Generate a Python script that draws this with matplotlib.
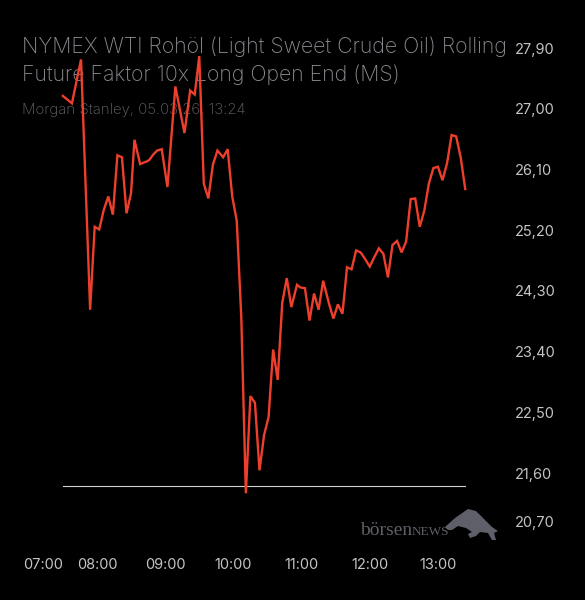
import numpy as np
import matplotlib
matplotlib.use("Agg")
import matplotlib.pyplot as plt
from matplotlib.patches import Polygon
from matplotlib.transforms import ScaledTranslation

# ----------------------------------------
# Data
# ----------------------------------------
times = ["07:30", "07:38", "07:46", "07:54", "07:58", "08:02", "08:06", "08:10", "08:14", "08:18",
         "08:22", "08:26", "08:30", "08:33", "08:38", "08:44", "08:46", "08:50", "08:53", "08:57",
         "09:02", "09:09", "09:17", "09:22", "09:26", "09:30", "09:34", "09:38", "09:42", "09:46",
         "09:51", "09:55", "09:59", "10:03", "10:07", "10:11", "10:15", "10:19", "10:23", "10:27",
         "10:31", "10:35", "10:39", "10:43", "10:47", "10:51", "10:56", "10:59", "11:03", "11:07",
         "11:11", "11:15", "11:19", "11:24", "11:28", "11:32", "11:36", "11:40", "11:44", "11:48",
         "11:52", "11:56", "12:00", "12:04", "12:08", "12:12", "12:16", "12:20", "12:24", "12:28",
         "12:32", "12:36", "12:40", "12:44", "12:48", "12:52", "12:56", "13:00", "13:04", "13:08",
         "13:12", "13:16", "13:20", "13:24"]

prices = [27.19, 27.08, 27.73, 24.02, 25.25, 25.21, 25.50, 25.70, 25.43, 26.31,
          26.28, 25.45, 25.75, 26.54, 26.18, 26.22, 26.24, 26.33, 26.38, 26.40,
          25.84, 27.33, 26.64, 27.27, 27.21, 27.78, 25.89, 25.67, 26.17, 26.38,
          26.28, 26.40, 25.70, 25.34, 23.90, 21.30, 22.74, 22.64, 21.64, 22.16,
          22.43, 23.43, 22.98, 24.12, 24.49, 24.06, 24.39, 24.35, 24.34, 23.86,
          24.26, 24.02, 24.45, 24.12, 23.89, 24.10, 23.96, 24.65, 24.62, 24.90,
          24.87, 24.77, 24.66, 24.80, 24.93, 24.85, 24.50, 24.98, 25.04, 24.87,
          25.03, 25.66, 25.67, 25.25, 25.49, 25.89, 26.12, 26.14, 25.94, 26.19,
          26.61, 26.59, 26.28, 25.81]

base_level = 21.41

x_ticks = ["07:00", "08:00", "09:00", "10:00", "11:00", "12:00", "13:00"]
y_ticks = [27.90, 27.00, 26.10, 25.20, 24.30, 23.40, 22.50, 21.60, 20.70]

title_lines = ["NYMEX WTI Rohöl (Light Sweet Crude Oil) Rolling",
               "Future Faktor 10x Long Open End (MS)"]
subtitle = "Morgan Stanley, 05.03.26, 13:24"


def to_min(s):
    h, m = s.split(":")
    return int(h) * 60 + int(m)


t = np.array([to_min(s) for s in times])
v = np.array(prices)

W, H = 585, 600


def fx(px):
    return px / W


def fy(py):
    return 1 - py / H


plt.rcParams['font.family'] = ['Inter', 'DejaVu Sans']

fig = plt.figure(figsize=(5.85, 6.0), dpi=100, facecolor="black")
ax = fig.add_axes([fx(20), fy(540), fx(480) - fx(20), fy(30) - fy(540)])
ax.set_zorder(3)
ax.patch.set_visible(False)

ax.plot(t, v, color="#ee3f2c", lw=1.7, solid_joinstyle="miter", zorder=3)
ax.plot([t[0], t[-1]], [base_level, base_level], color="#d0d0d0", lw=0.8, zorder=2)

ax.set_xlim(412.3, 817.0)
ax.set_ylim(20.607, 28.167)

for s in ax.spines.values():
    s.set_visible(False)

ax.set_xticks([to_min(s) for s in x_ticks])
ax.set_xticklabels(x_ticks)
ax.yaxis.tick_right()
ax.set_yticks(y_ticks)
ax.set_yticklabels([f"{y:.2f}".replace(".", ",") for y in y_ticks])
ax.tick_params(axis="both", length=0, colors="#c4c4c4", labelsize=10.5)
ax.tick_params(axis="y", pad=25)
ax.tick_params(axis="x", pad=13)
for lab in ax.get_yticklabels():
    lab.set_horizontalalignment("left")

# first x label and last y label are pushed inside like in the original
xl = ax.get_xticklabels()[0]
xl.set_transform(xl.get_transform() + ScaledTranslation(14 / 100, 0, fig.dpi_scale_trans))
yl = ax.get_yticklabels()[-1]
yl.set_transform(yl.get_transform() + ScaledTranslation(0, 12 / 100, fig.dpi_scale_trans))

# title block (drawn under the line)
for line, base in zip(title_lines, [53, 81]):
    fig.text(fx(22), fy(base), line, color="#8a8a90", fontsize=15.35, fontweight="light",
             va="baseline", ha="left", zorder=1)
fig.text(fx(22), fy(114), subtitle, color="#66666c", fontsize=10.8, fontweight="light",
         va="baseline", ha="left", zorder=1)

# logo
fig.text(fx(360), fy(535), "börsen", family="Liberation Serif", fontsize=14,
         color="#5f5f6a", va="baseline", ha="left")
fig.text(fx(412), fy(535), "NEWS", family="Liberation Serif", fontsize=9.5,
         color="#5f5f6a", va="baseline", ha="left")
bull = [(445, 527), (455, 518), (468, 509), (476, 511), (485, 520), (492, 527), (498, 531),
        (494, 533), (496, 540), (492, 540), (488, 533), (480, 532), (476, 536), (470, 538),
        (468, 534), (472, 532), (466, 528), (458, 526), (452, 530), (448, 530)]
fig.patches.append(Polygon([(fx(a), fy(b)) for a, b in bull], closed=True,
                           transform=fig.transFigure, facecolor="#5f5f6a", edgecolor="none"))

fig.savefig("out.png", dpi=100, facecolor="black")
